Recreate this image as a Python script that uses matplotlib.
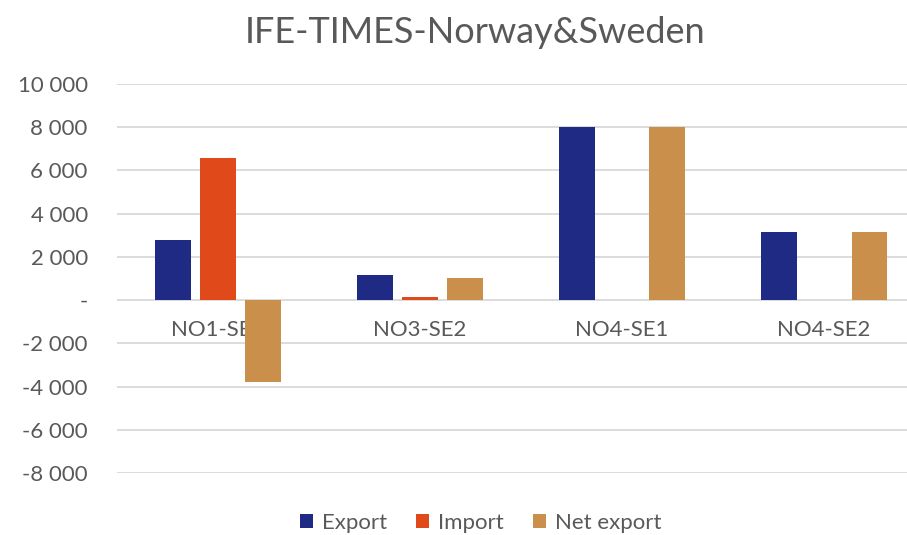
import matplotlib
matplotlib.use("Agg")
import matplotlib.pyplot as plt
import matplotlib.transforms as mtransforms
import numpy as np

plt.rcParams['font.family'] = ['Lato', 'DejaVu Sans']

categories = ['NO1-SE3', 'NO3-SE2', 'NO4-SE1', 'NO4-SE2']
export = [2780, 1160, 8010, 3150]
imports = [6580, 130, 0, 0]
net_export = [-3800, 1030, 8010, 3150]
series = ['Export', 'Import', 'Net export']
colors = ['#1f2a84', '#e04a1a', '#ca8f4a']
yticks = [10000, 8000, 6000, 4000, 2000, 0, -2000, -4000, -6000, -8000]

grey = '#595959'

fig = plt.figure(figsize=(9.07, 5.35), dpi=100)
ax = fig.add_axes([117/907, 1 - 473/535, 1 - 117/907, (473 - 84)/535])

x = np.arange(len(categories))
w = 0.175
off = 0.223
for i, (vals, name, c) in enumerate(zip([export, imports, net_export], series, colors)):
    ax.bar(x + (i - 1) * off, vals, width=w, color=c, label=name,
           edgecolor='none', zorder=3)

ax.set_xlim(-0.5, 3.41)
ax.set_ylim(-8000, 10000)
ax.set_yticks(yticks)
ax.set_yticklabels(['-' if v == 0 else f'{v:,}'.replace(',', ' ') for v in yticks],
                   fontsize=16, color=grey)
ax.tick_params(axis='y', length=0, pad=21)
ax.set_xticks([])
ax.grid(axis='y', color='#d9d9d9', linewidth=1.3, zorder=0)
for s in ax.spines.values():
    s.set_visible(False)

# category labels sit just under the zero line, behind the bars
trans = mtransforms.blended_transform_factory(ax.transData, ax.transData)
for xi, cat in zip(x, categories):
    ax.text(xi, -1380, cat, transform=trans, ha='center', va='center',
            fontsize=16, color=grey, zorder=1)

fig.text(0.524, 0.94, 'IFE-TIMES-Norway&Sweden', ha='center', va='center',
         fontsize=26, color=grey)

fig.legend(loc='center', bbox_to_anchor=(0.53, 0.022), ncol=3, frameon=False,
           fontsize=16, labelcolor=grey, handlelength=0.6, handleheight=0.6,
           handletextpad=0.4, columnspacing=1.3)

fig.savefig('out.png', dpi=100)
